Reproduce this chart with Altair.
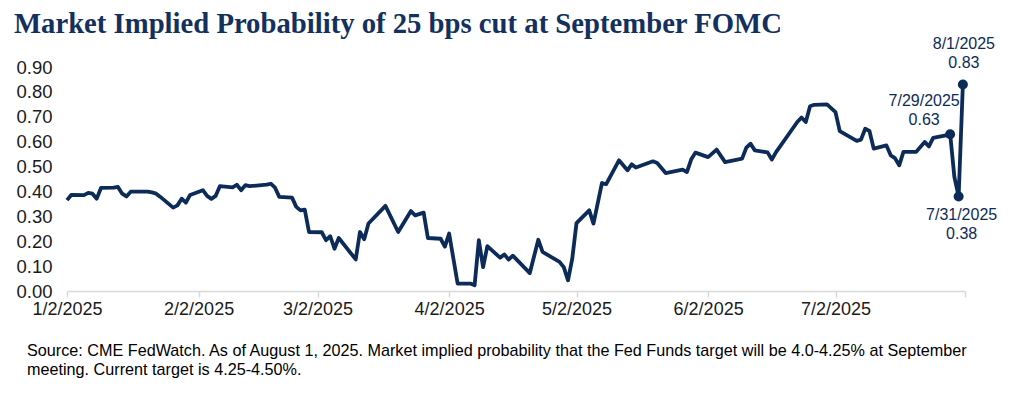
import altair as alt
import pandas as pd

# ---- data ----
dates = [
    "2025-01-02", "2025-01-03", "2025-01-06", "2025-01-07", "2025-01-08", "2025-01-09",
    "2025-01-10", "2025-01-13", "2025-01-14", "2025-01-15", "2025-01-16", "2025-01-17",
    "2025-01-21", "2025-01-22", "2025-01-23", "2025-01-24", "2025-01-27", "2025-01-28",
    "2025-01-29", "2025-01-30", "2025-01-31",
    "2025-02-03", "2025-02-04", "2025-02-05", "2025-02-06", "2025-02-07", "2025-02-10",
    "2025-02-11", "2025-02-12", "2025-02-13", "2025-02-14", "2025-02-18", "2025-02-19",
    "2025-02-20", "2025-02-21", "2025-02-24", "2025-02-25", "2025-02-26", "2025-02-27",
    "2025-02-28",
    "2025-03-03", "2025-03-04", "2025-03-05", "2025-03-06", "2025-03-07", "2025-03-11",
    "2025-03-12", "2025-03-13", "2025-03-14", "2025-03-18", "2025-03-21", "2025-03-24",
    "2025-03-25", "2025-03-27", "2025-03-28", "2025-03-31",
    "2025-04-01", "2025-04-02", "2025-04-04", "2025-04-07", "2025-04-08", "2025-04-09",
    "2025-04-10", "2025-04-11", "2025-04-14", "2025-04-15", "2025-04-16", "2025-04-17",
    "2025-04-21", "2025-04-23", "2025-04-24", "2025-04-28", "2025-04-29", "2025-04-30",
    "2025-05-01", "2025-05-02", "2025-05-05", "2025-05-06", "2025-05-08", "2025-05-09",
    "2025-05-12", "2025-05-14", "2025-05-15", "2025-05-16", "2025-05-20", "2025-05-21",
    "2025-05-23", "2025-05-27", "2025-05-28", "2025-05-29", "2025-05-30",
    "2025-06-02", "2025-06-04", "2025-06-06", "2025-06-10", "2025-06-11", "2025-06-12",
    "2025-06-13", "2025-06-16", "2025-06-17", "2025-06-18", "2025-06-23", "2025-06-24",
    "2025-06-25", "2025-06-26", "2025-06-27", "2025-06-30",
    "2025-07-02", "2025-07-03", "2025-07-07", "2025-07-08", "2025-07-09", "2025-07-10",
    "2025-07-11", "2025-07-14", "2025-07-15", "2025-07-16", "2025-07-17", "2025-07-18",
    "2025-07-21", "2025-07-23", "2025-07-24", "2025-07-25", "2025-07-28", "2025-07-29",
    "2025-07-30", "2025-07-31", "2025-08-01",
]
values = [
    0.365, 0.386, 0.385, 0.394, 0.391, 0.371,
    0.414, 0.415, 0.418, 0.391, 0.380, 0.399,
    0.399, 0.396, 0.391, 0.378, 0.335, 0.344,
    0.371, 0.355, 0.386,
    0.405, 0.382, 0.370, 0.382, 0.421, 0.416,
    0.427, 0.405, 0.425, 0.421, 0.427, 0.431,
    0.415, 0.378, 0.375, 0.338, 0.324, 0.327,
    0.237,
    0.236, 0.204, 0.220, 0.170, 0.213, 0.127,
    0.237, 0.208, 0.271, 0.342, 0.237, 0.321,
    0.304, 0.315, 0.213, 0.210,
    0.178, 0.231, 0.030, 0.030, 0.023, 0.204,
    0.096, 0.180, 0.134, 0.147, 0.126, 0.142,
    0.072, 0.206, 0.157, 0.117, 0.096, 0.043,
    0.130, 0.273, 0.324, 0.271, 0.434, 0.429,
    0.525, 0.485, 0.509, 0.496, 0.521, 0.514,
    0.474, 0.488, 0.478, 0.528, 0.556,
    0.538, 0.568, 0.518, 0.532, 0.576, 0.592,
    0.565, 0.557, 0.528, 0.558, 0.679, 0.697,
    0.679, 0.742, 0.748, 0.750,
    0.719, 0.642, 0.603, 0.608, 0.652, 0.643,
    0.572, 0.585, 0.545, 0.534, 0.505, 0.559,
    0.559, 0.599, 0.581, 0.615, 0.625, 0.632,
    0.458, 0.380, 0.830,
]

ann_keys = ["a", "b", "c"]
ann_dates = ["2025-07-29", "2025-07-31", "2025-08-01"]
ann_values = [0.63, 0.38, 0.83]
ann_labels = ["7/29/2025\n0.63", "7/31/2025\n0.38", "8/1/2025\n0.83"]

y_ticks = [0.0, 0.1, 0.2, 0.3, 0.4, 0.5, 0.6, 0.7, 0.8, 0.9]
tick_dates = ["2025-01-02", "2025-02-02", "2025-03-02", "2025-04-02",
              "2025-05-02", "2025-06-02", "2025-07-02"]

title_text = "Market Implied Probability of 25 bps cut at September FOMC"
footer_text = ("Source: CME FedWatch. As of August 1, 2025. Market implied probability that the "
               "Fed Funds target will be 4.0-4.25% at September\nmeeting. Current target is 4.25-4.50%.")

# ---- styling ----
NAVY = "#0d2b58"
W, H = 898, 224
FONT = "Liberation Sans"

df = pd.DataFrame({"date": dates, "value": values})
ann = pd.DataFrame({"key": ann_keys, "date": ann_dates, "value": ann_values, "label": ann_labels})


def dt(s, hour=0):
    y, m, d = (int(p) for p in s.split("-"))
    return alt.DateTime(year=y, month=m, date=d, hours=hour, utc=True)


axis_values = [dt(s) for s in tick_dates] + [dt("2025-08-01", 12)]

x_enc = alt.X(
    "date:T",
    scale=alt.Scale(type="utc", domain=[dt("2025-01-02"), dt("2025-08-01", 12)]),
    axis=alt.Axis(
        values=axis_values,
        labelExpr="utcdate(datum.value) == 1 ? '' : utcFormat(datum.value, '%-m/%-d/%Y')",
        title=None, grid=False,
        domainColor="#d9d9d9", domainWidth=1.5,
        tickColor="#d9d9d9", tickWidth=1.5, tickSize=6,
        labelFont=FONT, labelFontSize=18, labelColor="#1a1a1a",
        labelPadding=3, labelFlush=False, labelOverlap=False,
    ),
)
y_enc = alt.Y(
    "value:Q",
    scale=alt.Scale(domain=[0, 0.9], nice=False, zero=True),
    axis=alt.Axis(
        values=y_ticks,
        format=".2f", title=None, grid=False, domain=False, ticks=False,
        labelFont=FONT, labelFontSize=18.5, labelColor="#1a1a1a", labelPadding=15,
        labelOverlap=False, labelFlush=False,
    ),
)

line = alt.Chart(df).mark_line(color=NAVY, strokeWidth=3.8, strokeJoin="round").encode(
    x=x_enc, y=y_enc
)

points = alt.Chart(ann).mark_point(
    filled=True, color=NAVY, size=100, opacity=1
).encode(x=x_enc, y=y_enc)

offsets = {"a": (-26, -33),
           "b": (3, 19),
           "c": (1, -40)}
ann_layers = []
for k, (dx, dy) in offsets.items():
    ann_layers.append(
        alt.Chart(ann).transform_filter(f"datum.key == '{k}'").mark_text(
            font=FONT, fontSize=16, color=NAVY, lineBreak="\n", lineHeight=18.5,
            align="center", baseline="middle", dx=dx, dy=dy,
        ).encode(x=x_enc, y=y_enc, text="label:N")
    )

title = alt.Chart(pd.DataFrame({"t": [title_text]})).mark_text(
    font="Liberation Serif", fontSize=28.7, fontWeight="bold", color="#14305e",
    align="left", baseline="alphabetic",
).encode(x=alt.value(-53), y=alt.value(-34), text="t:N")

footer = alt.Chart(pd.DataFrame({"t": [footer_text]})).mark_text(
    font=FONT, fontSize=16.2, color="#000000", lineBreak="\n", lineHeight=19,
    align="left", baseline="alphabetic",
).encode(x=alt.value(-40), y=alt.value(289), text="t:N")

chart = alt.layer(line, points, *ann_layers, title, footer).properties(
    width=W, height=H,
    background="white",
    autosize=alt.AutoSizeParams(type="none"),
    padding={"left": 59, "top": 59, "right": 1008 - 59 - W, "bottom": 378 - 59 - H},
).configure_view(strokeWidth=0, stroke="transparent")

chart.save("out.html", embed_options={"renderer": "svg", "actions": False})
